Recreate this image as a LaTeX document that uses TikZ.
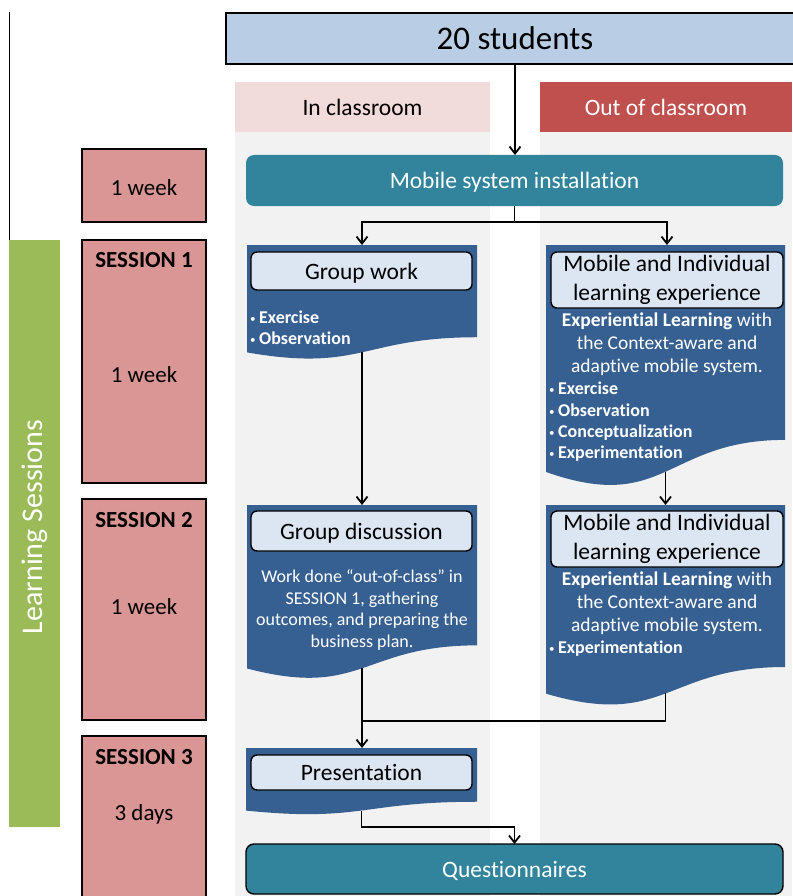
\documentclass[tikz,border=0pt]{standalone}
\usepackage{fontspec}
\setmainfont{Carlito}[Ligatures=NoCommon]
\usetikzlibrary{arrows.meta}
\definecolor{topblue}{HTML}{B9CDE5}
\definecolor{hdrpink}{HTML}{F2DCDB}
\definecolor{hdrred}{HTML}{C0504D}
\definecolor{colgray}{HTML}{F2F2F2}
\definecolor{tealc}{HTML}{31849B}
\definecolor{docblue}{HTML}{376092}
\definecolor{inblue}{HTML}{DCE6F2}
\definecolor{sessred}{HTML}{D99694}
\definecolor{lsgreen}{HTML}{9BBB59}
\newcommand\fsz[2]{\fontsize{#1}{#2}\selectfont}
\newcommand\bulmark{{\fsz{11}{11}\mdseries\raisebox{1pt}{•}}\hspace{3.5pt}}
\newcommand\docshape[5]{%
  \fill[docblue] (#2,#4) -- (#3,#4) -- (#3,{#4+0.802*#5})
    .. controls ({(#2+#3)/2},{#4+0.802*#5}) and ({(#2+#3)/2},{#4+1.1075*#5}) ..
    coordinate[pos=0.5] (#1) (#2,{#4+0.934*#5}) -- cycle;}
\begin{document}
\begin{tikzpicture}[x=1pt,y=-1pt,
  box/.style={inner sep=0pt, outer sep=0pt, anchor=north west},
  sess/.style={box, draw=black, line width=1.4pt, fill=sessred},
  inbox/.style={box, draw=black, line width=1.4pt, fill=inblue, rounded corners=6pt, font=\fsz{23.5}{29}},
  title/.style={font=\fsz{23.5}{28}},
  oneline/.style={text height=21pt, text depth=4.7pt},
  body/.style={inner sep=0pt, anchor=base, text=white, font=\fsz{19.5}{23}},
  gbody/.style={body, font=\fsz{18}{22}},
  bul/.style={inner sep=0pt, anchor=base west, text=white, font=\fsz{18}{21}\bfseries},
  lbl/.style={inner sep=0pt, anchor=base, font=\fsz{23}{28}},
  blbl/.style={lbl, font=\fsz{23}{28}\bfseries},
  conn/.style={line width=1.8pt},
  arr/.style={conn, -{Straight Barb[length=7pt,width=11pt]}},
]
\useasboundingbox (0,0) rectangle (792,896);

% column backgrounds
\fill[colgray] (235,132) rectangle (490,896);
\fill[colgray] (540,132) rectangle (792,896);
\node[box, fill=hdrpink, minimum width=255pt, minimum height=50pt, title, oneline] (inhdr) at (235,82) {In classroom};
\node[box, fill=hdrred, minimum width=252pt, minimum height=50pt, title, oneline, text=white] (outhdr) at (540,82) {Out of classroom};

% left side
\draw[line width=1pt] (9.5,12) -- (9.5,457);
\node[box, fill=lsgreen, minimum width=51pt, minimum height=587pt] (lsbar) at (9,240) {};
\node[rotate=90, text=white, font=\fsz{30}{36}, inner sep=0pt] (ls) at (34.5,527) {Learning Sessions};

\node[sess, minimum width=124pt, minimum height=73pt] (s0) at (82,149) {};
\node[lbl] (s0a) at (144,195) {1 week};
\node[sess, minimum width=124pt, minimum height=243pt] (s1) at (82,240) {};
\node[blbl] (s1a) at (144,267) {SESSION 1};
\node[lbl] (s1b) at (144,382) {1 week};
\node[sess, minimum width=124pt, minimum height=221pt] (s2) at (82,499) {};
\node[blbl] (s2a) at (144,527) {SESSION 2};
\node[lbl] (s2b) at (144,614) {1 week};
\node[sess, minimum width=124pt, minimum height=180pt] (s3) at (82,736) {};
\node[blbl] (s3a) at (144,764) {SESSION 3};
\node[lbl] (s3b) at (144,820) {3 days};

% top
\node[box, draw=black, line width=1.4pt, fill=topblue, minimum width=578pt, minimum height=51pt, font=\fsz{33}{40}, text height=29.5pt, text depth=6.6pt] (students) at (226,13) {20 students};
\node[box, fill=tealc, rounded corners=8pt, minimum width=537pt, minimum height=51pt, title, oneline, text=white] (install) at (246,155) {Mobile system installation};

% documents
\docshape{gwB}{247}{477}{245}{115}
\docshape{m1B}{546}{785}{245}{243}
\docshape{gdB}{247}{477}{505}{175}
\docshape{m2B}{546}{785}{505}{202}
\docshape{prB}{246}{477}{748}{67}

\node[inbox, oneline, minimum width=221pt, minimum height=38pt] (gw) at (251,252) {Group work};
\node[bul] (gw1) at (250,323) {\bulmark Exercise};
\node[bul] (gw2) at (250,344) {\bulmark Observation};

\node[inbox, minimum width=232pt, minimum height=56pt, align=center] (m1) at (551,252) {Mobile and Individual\\learning experience};
\node[body] (m1t1) at (667,326) {\textbf{Experiential Learning} with};
\node[body] (m1t2) at (667,349) {the Context-aware and};
\node[body] (m1t3) at (667,372) {adaptive mobile system.};
\node[bul] (m1b1) at (549,394) {\bulmark Exercise};
\node[bul] (m1b2) at (549,416) {\bulmark Observation};
\node[bul] (m1b3) at (549,437) {\bulmark Conceptualization};
\node[bul] (m1b4) at (549,458) {\bulmark Experimentation};

\node[inbox, oneline, minimum width=221pt, minimum height=40pt] (gd) at (251,511) {Group discussion};
\node[gbody] (gdt1) at (362,582) {Work done “out-of-class” in};
\node[gbody] (gdt2) at (362,604) {SESSION 1, gathering};
\node[gbody] (gdt3) at (362,625) {outcomes, and preparing the};
\node[gbody] (gdt4) at (362,647) {business plan.};

\node[inbox, minimum width=232pt, minimum height=56pt, align=center] (m2) at (551,511) {Mobile and Individual\\learning experience};
\node[body] (m2t1) at (667,585) {\textbf{Experiential Learning} with};
\node[body] (m2t2) at (667,608) {the Context-aware and};
\node[body] (m2t3) at (667,631) {adaptive mobile system.};
\node[bul] (m2b1) at (549,653) {\bulmark Experimentation};

\node[inbox, oneline, minimum width=221pt, minimum height=35pt] (pr) at (251,755) {Presentation};

\node[box, draw=black, line width=1.4pt, fill=tealc, rounded corners=8pt, minimum width=537pt, minimum height=50pt, title, oneline, text=white] (quest) at (246,844) {Questionnaires};

% connectors
\coordinate (gwT) at (362,245);
\coordinate (m1T) at (667,245);
\coordinate (gdT) at (362,505);
\coordinate (m2T) at (667,505);
\coordinate (prT) at (362,748);
\coordinate (join) at (362,721);
\coordinate (qJ) at (0,827);
\path (install.south) ++(0,16) coordinate (split);

\draw[arr] (students.south) -- (students.south |- install.north);
\draw[conn] (install.south) -- (split);
\draw[arr] (split) -| (gwT);
\draw[arr] (split) -| (m1T);
\draw[arr] (gwB) -- (gwB |- gdT);
\draw[arr] (m1B) -- (m1B |- m2T);
\draw[arr] (gdB) -- (gdB |- prT);
\draw[conn] (m2B) |- (join);
\draw[arr] (prB) |- (qJ -| quest.north) -- (quest.north);
\end{tikzpicture}
\end{document}
